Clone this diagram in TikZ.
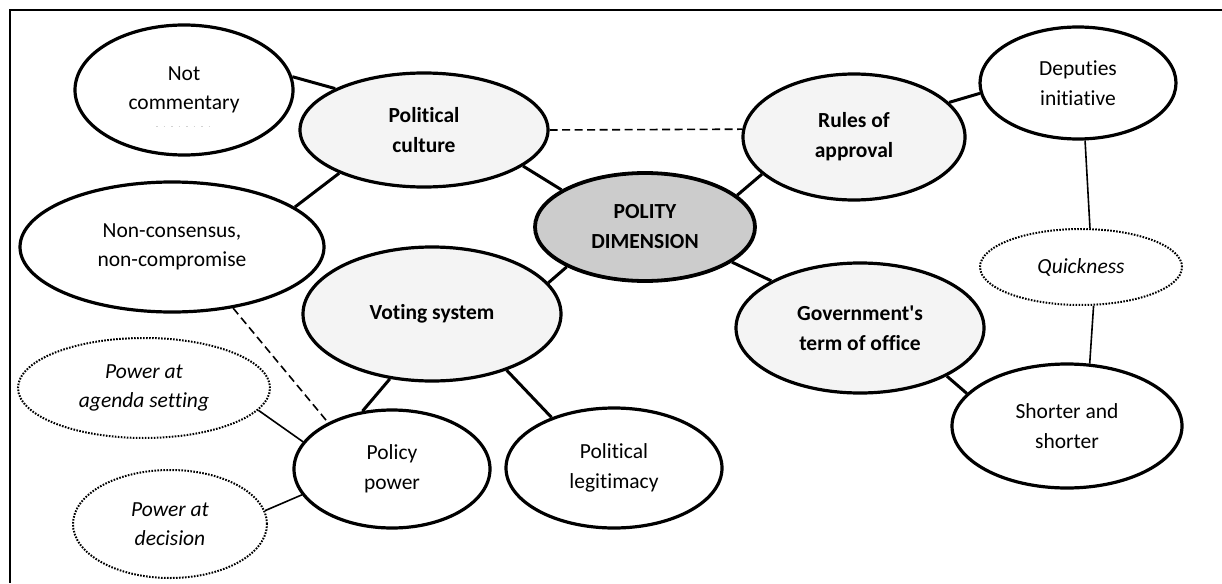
\documentclass[tikz,border=0pt]{standalone}
\usepackage{fontspec}
\setmainfont{Carlito}[Ligatures={CommonOff,TeXOff}]
\usetikzlibrary{shapes.geometric}
\definecolor{lightfill}{HTML}{F4F4F4}
\definecolor{corefill}{HTML}{CCCCCC}
\begin{document}
\begin{tikzpicture}[x=1pt,y=-1pt,
  ell/.style={ellipse, draw, line width=3.2pt, inner sep=0pt, align=center,
    font=\fontsize{21.5}{29.5}\selectfont},
  mainell/.style={ell, fill=lightfill, font=\fontsize{21.5}{30}\selectfont\bfseries},
  coreell/.style={ell, fill=corefill, line width=3.8pt, font=\fontsize{21.5}{30}\selectfont\bfseries},
  dotell/.style={ell, line width=2pt, dash pattern=on 1.6pt off 1.4pt,
    font=\fontsize{21.5}{29.5}\selectfont\itshape},
  thickconn/.style={line width=3pt},
  thinconn/.style={line width=1.6pt},
  dashconn/.style={line width=1.6pt, dash pattern=on 8pt off 4.5pt}
]
\useasboundingbox (0,0) rectangle (1222,583);
\draw[line width=2.5pt] (1222,10) -- (10,10) -- (10,583);

% nodes
\node[ell, minimum width=218pt, minimum height=130pt] (nc) at (184,90) {Not\\commentary};
\node[mainell, minimum width=248pt, minimum height=114pt] (pc) at (424,130) {Political\\culture};
\node[coreell, minimum width=220pt, minimum height=108pt] (core) at (645,227) {POLITY\\DIMENSION};
\node[mainell, minimum width=222pt, minimum height=126pt] (ra) at (854,137) {Rules of\\approval};
\node[ell, minimum width=196pt, minimum height=112pt] (dep) at (1078,83) {Deputies\\initiative};
\node[dotell, minimum width=202pt, minimum height=76pt] (qk) at (1081,267) {Quickness};
\node[mainell, minimum width=248pt, minimum height=130pt] (gov) at (860,328) {Government's\\term of office};
\node[ell, minimum width=230pt, minimum height=124pt] (sh) at (1067,426) {Shorter and\\shorter};
\node[mainell, minimum width=258pt, minimum height=134pt] (vs) at (432,314) {Voting system};
\node[ell, minimum width=304pt, minimum height=130pt] (ncc) at (172,247) {Non-consensus,\\non-compromise};
\node[dotell, minimum width=252pt, minimum height=100pt] (ag) at (144,388) {Power at\\agenda setting};
\node[ell, minimum width=196pt, minimum height=118pt] (pp) at (392,469) {Policy\\power};
\node[dotell, minimum width=194pt, minimum height=108pt] (dc) at (170,524) {Power at\\decision};
\node[ell, minimum width=216pt, minimum height=120pt] (lg) at (614,468) {Political\\legitimacy};

% faint hidden line under "commentary"
\draw[gray!35, line width=1pt, dash pattern=on 1.5pt off 6pt] (156,126) -- (216,126);

% connectors
\draw[thickconn] (nc.7) -- (pc.155.7);
\draw[thickconn] (pc.207.7) -- (ncc.18.3);
\draw[dashconn] (pc.east) -- (ra.176);
\draw[thickconn] (pc.-20.4) -- (core.156.9);
\draw[thickconn] (core.19) -- (ra.202.1);
\draw[thickconn] (core.207.5) -- (vs.15.3);
\draw[thickconn] (core.-22.5) -- (gov.152.1);
\draw[thickconn] (ra.20) -- (dep.186.6);
\draw[thinconn] (dep.277) -- (qk.77.8);
\draw[thinconn] (qk.288.4) -- (sh.70.7);
\draw[thickconn] (gov.331) -- (sh.162.8);
\draw[thickconn] (vs.237.1) -- (pp.117.4);
\draw[thickconn] (vs.323.9) -- (lg.141.4);
\draw[dashconn] (ncc.315) -- (pp.144.5);
\draw[thinconn] (ag.349.1) -- (pp.163.9);
\draw[thinconn] (dc.8.2) -- (pp.196.9);
\end{tikzpicture}
\end{document}
